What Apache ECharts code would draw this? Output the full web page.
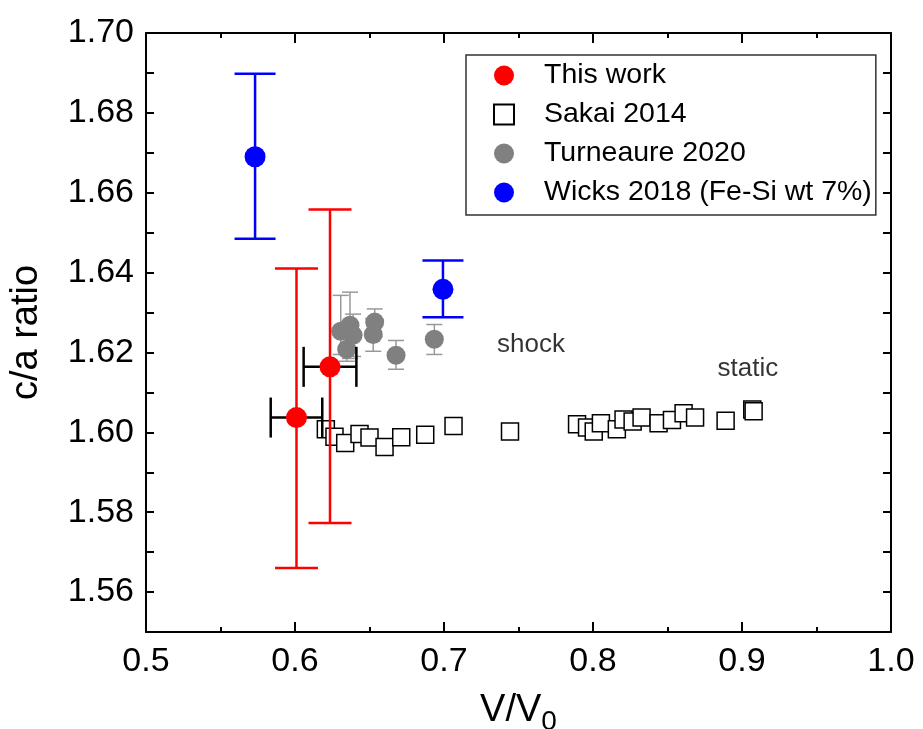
<!DOCTYPE html>
<html>
<head>
<meta charset="utf-8">
<script src="https://cdn.jsdelivr.net/npm/echarts@6/dist/echarts.min.js"></script>
<style>
html,body{margin:0;padding:0;background:#fff;}
#chart{width:923px;height:729px;}
</style>
</head>
<body>
<div id="chart"></div>
<script>
// ---- data ----
const xMin = 0.5, xMax = 1.0, xInterval = 0.1;
const yMin = 1.55, yMax = 1.70, yTickStep = 0.01;   // ticks every 0.01, labels every 0.02
const yLabelEvery = 2;

// This work (red) with vertical and horizontal error bars
const thisWorkX    = [0.601, 0.6235];
const thisWorkY    = [1.6037, 1.6164];
const thisWorkYLo  = [1.566, 1.5773];
const thisWorkYHi  = [1.641, 1.6558];
const thisWorkXErr = [0.0173, 0.0177];

// Sakai 2014 (open squares)
const sakaiX = [0.6207, 0.6265, 0.6337, 0.6433, 0.6500, 0.6601, 0.6713, 0.6874, 0.7064, 0.7443,
                0.7893, 0.7960, 0.8005, 0.8053, 0.8160, 0.8205, 0.8266, 0.8326, 0.8440, 0.8530,
                0.8608, 0.8685, 0.8890, 0.9069, 0.9078];
const sakaiY = [1.6008, 1.5989, 1.5973, 1.5996, 1.5987, 1.5963, 1.5988, 1.5994, 1.6016, 1.6002,
                1.6020, 1.6012, 1.6002, 1.6023, 1.6008, 1.6032, 1.6027, 1.6037, 1.6023, 1.6031,
                1.6048, 1.6037, 1.6029, 1.6057, 1.6053];

// Turneaure 2020 (grey) with error bars
const turnX  = [0.6307, 0.6369, 0.6390, 0.6347, 0.6535, 0.6525, 0.6678, 0.6935];
const turnY  = [1.6253, 1.6268, 1.6243, 1.6208, 1.6276, 1.6245, 1.6193, 1.6233];
const turnLo = [1.6195, 1.6185, 1.6190, 1.6178, 1.6240, 1.6203, 1.6158, 1.6195];
const turnHi = [1.6343, 1.6351, 1.6296, 1.6238, 1.6309, 1.6285, 1.6230, 1.6270];

// Wicks 2018 (blue) with error bars
const wicksX  = [0.5732, 0.6993];
const wicksY  = [1.6690, 1.6358];
const wicksLo = [1.6485, 1.6288];
const wicksHi = [1.6898, 1.6430];

// Text annotations (data coordinates)
const annotText = ['shock', 'static'];
const annotX = [0.7584, 0.9040];
const annotY = [1.6220, 1.6158];

const seriesNames = ['This work', 'Sakai 2014', 'Turneaure 2020', 'Wicks 2018 (Fe-Si wt 7%)'];

// ---- helpers ----
const FONT = 'Liberation Sans, Arial, sans-serif';
function zip2(a, b) { return a.map((v, i) => [v, b[i]]); }
function zip3(a, b, c) { return a.map((v, i) => [v, b[i], c[i]]); }

function vErrRender(color, capW, lw) {
  return function (params, api) {
    const x = api.value(0), lo = api.value(1), hi = api.value(2);
    const pLo = api.coord([x, lo]), pHi = api.coord([x, hi]);
    const h = capW / 2;
    const st = { stroke: color, lineWidth: lw };
    return { type: 'group', children: [
      { type: 'line', shape: { x1: pLo[0], y1: pLo[1], x2: pHi[0], y2: pHi[1] }, style: st },
      { type: 'line', shape: { x1: pLo[0] - h, y1: pLo[1], x2: pLo[0] + h, y2: pLo[1] }, style: st },
      { type: 'line', shape: { x1: pHi[0] - h, y1: pHi[1], x2: pHi[0] + h, y2: pHi[1] }, style: st }
    ]};
  };
}
function hErrRender(color, capH, lw) {
  return function (params, api) {
    const x = api.value(0), y = api.value(1), e = api.value(2);
    const pL = api.coord([x - e, y]), pR = api.coord([x + e, y]);
    const h = capH / 2;
    const st = { stroke: color, lineWidth: lw };
    return { type: 'group', children: [
      { type: 'line', shape: { x1: pL[0], y1: pL[1], x2: pR[0], y2: pR[1] }, style: st },
      { type: 'line', shape: { x1: pL[0], y1: pL[1] - h, x2: pL[0], y2: pL[1] + h }, style: st },
      { type: 'line', shape: { x1: pR[0], y1: pR[1] - h, x2: pR[0], y2: pR[1] + h }, style: st }
    ]};
  };
}

const xAxisCommon = {
  axisLine: { show: true, onZero: false, lineStyle: { color: '#000', width: 2 } },
  axisTick: { show: true, inside: true, length: 10, lineStyle: { color: '#000', width: 2 } },
  minorTick: { show: true, splitNumber: 2, length: 5, lineStyle: { color: '#000', width: 2 } },
  splitLine: { show: false }
};
const yAxisCommon = {
  axisLine: { show: true, onZero: false, lineStyle: { color: '#000', width: 2 } },
  axisTick: { show: true, inside: true, length: 8, lineStyle: { color: '#000', width: 2 } },
  minorTick: { show: false },
  splitLine: { show: false }
};

function yLabel(v) {
  const k = Math.round(v * 100);
  if (k % yLabelEvery !== 0 || v < yMin + 1e-9) return '';
  return (k / 100).toFixed(2);
}

const chart = echarts.init(document.getElementById('chart'), null, { renderer: 'canvas' });
const option = {
  backgroundColor: '#fff',
  animation: false,
  textStyle: { fontFamily: FONT },
  grid: { left: 146, right: 32, top: 33, bottom: 97, containLabel: false, outerBoundsMode: 'none' },
  xAxis: [
    Object.assign({
      type: 'value', position: 'bottom', min: xMin, max: xMax, interval: xInterval,
      name: 'V/V{s|0}', nameLocation: 'middle', nameGap: 54,
      nameTextStyle: { fontFamily: FONT, fontSize: 38, color: '#000',
        rich: { s: { fontFamily: FONT, fontSize: 28, color: '#000', verticalAlign: 'bottom', padding: [22, 0, 0, 0] } } },
      axisLabel: { fontFamily: FONT, fontSize: 34, color: '#000', margin: 13,
        formatter: v => v.toFixed(1) }
    }, xAxisCommon),
    Object.assign({
      type: 'value', position: 'top', min: xMin, max: xMax, interval: xInterval,
      axisLabel: { show: false }
    }, xAxisCommon)
  ],
  yAxis: [
    Object.assign({
      type: 'value', position: 'left', min: yMin, max: yMax, interval: yTickStep,
      name: 'c/a ratio', nameLocation: 'middle', nameGap: 100,
      nameTextStyle: { fontFamily: FONT, fontSize: 38, color: '#000' },
      axisLabel: { fontFamily: FONT, fontSize: 34, color: '#000', margin: 12, showMinLabel: true, showMaxLabel: true,
        formatter: yLabel }
    }, yAxisCommon),
    Object.assign({
      type: 'value', position: 'right', min: yMin, max: yMax, interval: yTickStep,
      axisLabel: { show: false }
    }, yAxisCommon)
  ],
  legend: {
    show: true, orient: 'vertical', left: 466, top: 55,
    data: seriesNames,
    itemWidth: 20, itemHeight: 20, itemGap: 10,
    padding: [6, 4, 8, 27],
    borderColor: '#333', borderWidth: 1.5,
    textStyle: { fontFamily: FONT, fontSize: 28.5, color: '#000', lineHeight: 26, padding: [0, 0, 0, 25] }
  },
  series: [
    { name: 'Sakai 2014', type: 'scatter', symbol: 'rect', symbolSize: 17, z: 2,
      itemStyle: { color: '#fff', borderColor: '#000', borderWidth: 1.5, opacity: 1 },
      data: zip2(sakaiX, sakaiY) },
    { name: 'turnErr', type: 'custom', z: 3, renderItem: vErrRender('#999', 16, 1.5),
      encode: { x: 0, y: [1, 2] }, data: zip3(turnX, turnLo, turnHi) },
    { name: 'Turneaure 2020', type: 'scatter', symbol: 'circle', symbolSize: 19, z: 4,
      itemStyle: { color: '#808080', opacity: 1 },
      data: zip2(turnX, turnY) },
    { name: 'twXErr', type: 'custom', z: 5, renderItem: hErrRender('#000', 40, 2.5),
      encode: { x: 0, y: 1 }, data: zip3(thisWorkX, thisWorkY, thisWorkXErr) },
    { name: 'twYErr', type: 'custom', z: 6, renderItem: vErrRender('#ff0000', 43, 2.5),
      encode: { x: 0, y: [1, 2] }, data: zip3(thisWorkX, thisWorkYLo, thisWorkYHi) },
    { name: 'This work', type: 'scatter', symbol: 'circle', symbolSize: 21, z: 7,
      itemStyle: { color: '#ff0000', opacity: 1 },
      data: zip2(thisWorkX, thisWorkY) },
    { name: 'wicksErr', type: 'custom', z: 6, renderItem: vErrRender('#0000ff', 41, 2.5),
      encode: { x: 0, y: [1, 2] }, data: zip3(wicksX, wicksLo, wicksHi) },
    { name: 'Wicks 2018 (Fe-Si wt 7%)', type: 'scatter', symbol: 'circle', symbolSize: 21, z: 7,
      itemStyle: { color: '#0000ff', opacity: 1 },
      data: zip2(wicksX, wicksY) },
    { name: 'annot', type: 'scatter', symbolSize: 0, z: 8, silent: true,
      label: { show: true, position: 'inside', fontFamily: FONT, fontSize: 26, color: '#000',
        formatter: p => p.name },
      data: annotText.map((t, i) => ({ name: t, value: [annotX[i], annotY[i]] })) }
  ]
};
chart.setOption(option);
</script>
</body>
</html>
